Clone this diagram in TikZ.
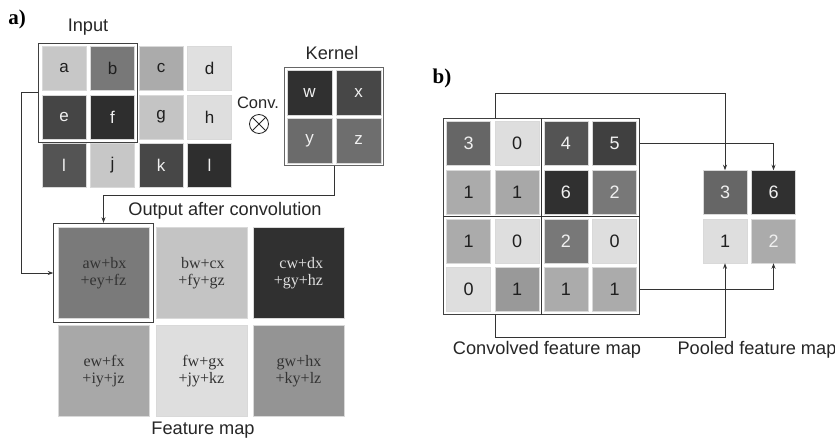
\documentclass[tikz,border=0pt]{standalone}
\usepackage{fontspec}
\setmainfont{Liberation Sans}
\newfontfamily\cellserif{Liberation Serif}
\usetikzlibrary{arrows.meta,fit,calc}

\begin{document}
\begin{tikzpicture}[x=1pt,y=-1pt,
  sq/.style={draw=black!15, line width=0.5pt, minimum size=44pt, inner sep=0pt,
             font=\fontsize{17}{17}\selectfont, text=black!88},
  num/.style={sq, font=\fontsize{18}{18}\selectfont},
  big/.style={draw=black!15, line width=0.5pt, minimum size=91pt, inner sep=0pt,
              align=right, font=\cellserif\fontsize{16}{17.5}\selectfont, text=black!80},
  lt/.style={text=black!6},
  frame/.style={draw=black!75, line width=0.9pt, inner sep=3pt},
  conn/.style={draw=black!80, line width=0.8pt},
  arr/.style={conn, -{Stealth[length=5.5pt,width=4pt]}},
  lab/.style={font=\fontsize{18.2}{18.2}\selectfont, text=black!85},
  panel/.style={font=\cellserif\bfseries\fontsize{21}{21}\selectfont}
]
\useasboundingbox (0,0) rectangle (835,439);

% ---------------- panel a ----------------
\node[panel] (pa) at (17,19) {a)};
\node[lab] (tin) at (88,27) {Input};

% input matrix
\node[sq, fill=black!22]      (ia) at (64,68.5)   {a};
\node[sq, fill=black!53]      (ib) at (112.5,68.5) {b};
\node[sq, fill=black!33]      (ic) at (161,68.5)  {c};
\node[sq, fill=black!12]      (id) at (209.5,68.5) {d};
\node[sq, fill=black!73, lt]  (ie) at (64,117)    {e};
\node[sq, fill=black!82, lt]  (if) at (112.5,117) {f};
\node[sq, fill=black!23]      (ig) at (161,117)   {g};
\node[sq, fill=black!13]      (ih) at (209.5,117) {h};
\node[sq, fill=black!67, lt]  (ii) at (64,165.5)  {l};
\node[sq, fill=black!22]      (ij) at (112.5,165.5) {j};
\node[sq, fill=black!72, lt]  (ik) at (161,165.5) {k};
\node[sq, fill=black!82, lt]  (il) at (209.5,165.5) {l};
\node[frame, fit=(ia)(if)] (inbox) {};

% convolution operator
\node[lab, font=\fontsize{16.5}{16.5}\selectfont] (tconv) at (258,103) {Conv.};
\node[draw=black!85, line width=0.8pt, circle, minimum size=19pt, inner sep=0pt] (otimes) at (259,124) {};
\draw[black!85, line width=0.8pt] (otimes.45) -- (otimes.225) (otimes.135) -- (otimes.315);

% kernel
\node[lab] (tker) at (332,53) {Kernel};
\node[sq, minimum size=45pt, fill=black!81, lt] (kw) at (309.5,93)    {w};
\node[sq, minimum size=45pt, fill=black!72, lt] (kx) at (358.5,93)    {x};
\node[sq, minimum size=45pt, fill=black!58, lt] (ky) at (309.5,140.5) {y};
\node[sq, minimum size=45pt, fill=black!57, lt] (kz) at (358.5,140.5) {z};
\node[frame, draw=black!60, inner sep=2.5pt, fit=(kw)(kz)] (kbox) {};

% feature map
\node[lab] (tout) at (225,211) {Output after convolution};
\node[big, fill=black!52]     (f1) at (103.5,273) {aw+bx\\+ey+fz};
\node[big, fill=black!23]     (f2) at (201.5,273) {bw+cx\\+fy+gz};
\node[big, fill=black!81, text=black!12] (f3) at (298.5,273) {cw+dx\\+gy+hz};
\node[big, fill=black!34]     (f4) at (103.5,371) {ew+fx\\+iy+jz};
\node[big, fill=black!13]     (f5) at (201.5,371) {fw+gx\\+jy+kz};
\node[big, fill=black!42]     (f6) at (298.5,371) {gw+hx\\+ky+lz};
\node[frame, inner sep=4pt, fit=(f1)] (fmbox) {};
\node[lab, anchor=base] (tfm) at (203,434) {Feature map};

% connectors of panel a
\draw[arr] (inbox.west) -- ++(-17,0) |- (fmbox.west);
\draw[arr] (kbox.south) -- ++(0,29) -| (fmbox.north);

% ---------------- panel b ----------------
\node[panel] (pb) at (442,78) {b)};

\node[num, fill=black!60, lt] (c11) at (468.5,143.5) {3};
\node[num, fill=black!13]     (c12) at (517.2,143.5) {0};
\node[num, fill=black!67, lt] (c13) at (565.9,143.5) {4};
\node[num, fill=black!75, lt] (c14) at (614.6,143.5) {5};
\node[num, fill=black!33]     (c21) at (468.5,192.2) {1};
\node[num, fill=black!34]     (c22) at (517.2,192.2) {1};
\node[num, fill=black!81, lt] (c23) at (565.9,192.2) {6};
\node[num, fill=black!53, lt] (c24) at (614.6,192.2) {2};
\node[num, fill=black!33]     (c31) at (468.5,240.9) {1};
\node[num, fill=black!13]     (c32) at (517.2,240.9) {0};
\node[num, fill=black!53, lt] (c33) at (565.9,240.9) {2};
\node[num, fill=black!13]     (c34) at (614.6,240.9) {0};
\node[num, fill=black!13]     (c41) at (468.5,289.6) {0};
\node[num, fill=black!40]     (c42) at (517.2,289.6) {1};
\node[num, fill=black!33]     (c43) at (565.9,289.6) {1};
\node[num, fill=black!33]     (c44) at (614.6,289.6) {1};
\node[frame, inner sep=2.5pt, fit=(c11)(c44)] (gbox) {};
\draw[black!80, line width=0.8pt] (gbox.north) -- (gbox.south) (gbox.west) -- (gbox.east);

% pooled map
\node[num, fill=black!60, lt] (p1) at (725,192.5) {3};
\node[num, fill=black!81, lt] (p2) at (773.5,192.5) {6};
\node[num, fill=black!13]     (p3) at (725,241)   {1};
\node[num, fill=black!33, lt] (p4) at (773.5,241) {2};

\node[lab] (tconvfm) at (547,350) {Convolved feature map};
\node[lab] (tpool) at (757,350) {Pooled feature map};

% pooling connectors
\draw[arr] (gbox.north -| c12.west) -- ++(0,-25) -| (p1.north);
\draw[arr] (c14.east -| gbox.east) -| (p2.north);
\draw[arr] (c44.east -| gbox.east) -| (p4.south);
\draw[arr] (gbox.south -| c42.west) -- ++(0,23) -| (p3.south);
\end{tikzpicture}
\end{document}
